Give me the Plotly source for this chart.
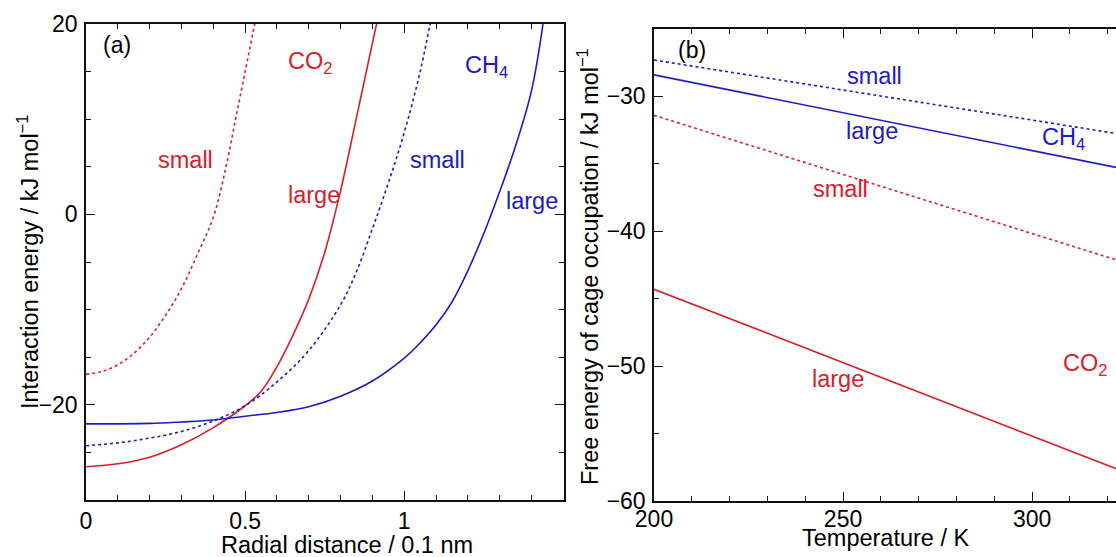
import plotly.graph_objects as go

# ---- panel (a): interaction energy vs radial distance ----
r_co2_small = [0.0, 0.05, 0.10, 0.15, 0.20, 0.25, 0.30, 0.35, 0.40, 0.44, 0.47, 0.50, 0.532]
e_co2_small = [-16.8, -16.5, -15.8, -14.6, -12.9, -10.6, -7.8, -4.2, -0.3, 5.0, 10.0, 15.0, 20.3]

r_co2_large = [0.0, 0.10, 0.20, 0.30, 0.40, 0.50, 0.55, 0.60, 0.65, 0.70, 0.75, 0.80, 0.85, 0.90, 0.92]
e_co2_large = [-26.5, -26.2, -25.5, -24.2, -22.4, -20.1, -18.6, -16.0, -12.7, -8.9, -4.0, 2.5, 10.2, 18.0, 21.1]

r_ch4_small = [0.0, 0.10, 0.20, 0.30, 0.40, 0.50, 0.60, 0.70, 0.80, 0.85, 0.90, 0.95, 1.00, 1.05, 1.08, 1.09]
e_ch4_small = [-24.3, -24.0, -23.5, -22.8, -21.7, -20.1, -17.6, -14.3, -9.5, -6.0, -1.5, 3.3, 8.6, 15.0, 19.8, 21.5]

r_ch4_large = [0.0, 0.20, 0.30, 0.40, 0.50, 0.60, 0.70, 0.80, 0.90, 1.00, 1.05, 1.10, 1.15, 1.20, 1.25, 1.30, 1.35, 1.40, 1.436]
e_ch4_large = [-22.0, -21.95, -21.8, -21.6, -21.2, -20.8, -20.2, -19.1, -17.5, -15.1, -13.5, -11.6, -9.2, -5.9, -2.0, 2.4, 7.2, 13.0, 20.0]

# ---- panel (b): free energy of cage occupation vs temperature ----
temperature = [200, 250, 300, 330]
g_ch4_small = [-27.3, -29.5, -31.75, -33.1]
g_ch4_large = [-28.4, -31.2, -34.0, -35.7]
g_co2_small = [-31.4, -35.8, -40.2, -42.8]
g_co2_large = [-44.3, -49.75, -55.2, -58.45]

RED = "#d9202a"
BLUE = "#1c1cc6"
FONT = "Liberation Sans, Arial, Helvetica, sans-serif"
W, H = 1116, 557
DASH = "3px,3px"


def px_x(p):
    return p / W


def px_y(p):
    return 1 - p / H


fig = go.Figure()


def curve(x, y, color, dotted, xa, ya, spline=True):
    fig.add_trace(go.Scatter(
        x=x, y=y, mode="lines", xaxis=xa, yaxis=ya, showlegend=False,
        line=dict(color=color, width=1.6, dash=DASH if dotted else "solid",
                  shape="spline" if spline else "linear", smoothing=1.0),
        hoverinfo="skip"))


curve(r_co2_small, e_co2_small, RED, True, "x", "y")
curve(r_co2_large, e_co2_large, RED, False, "x", "y")
curve(r_ch4_small, e_ch4_small, BLUE, True, "x", "y")
curve(r_ch4_large, e_ch4_large, BLUE, False, "x", "y")

curve(temperature, g_ch4_small, BLUE, True, "x2", "y2", spline=False)
curve(temperature, g_ch4_large, BLUE, False, "x2", "y2", spline=False)
curve(temperature, g_co2_small, RED, True, "x2", "y2", spline=False)
curve(temperature, g_co2_large, RED, False, "x2", "y2", spline=False)

tick_font = dict(family=FONT, size=23, color="black")
axis_common = dict(
    showgrid=False, zeroline=False, showline=True, linecolor="#111111", linewidth=1.5,
    ticks="inside", ticklen=9, tickwidth=1.3, tickcolor="#111111",
    tickfont=tick_font, automargin=False,
)
minor_common = dict(ticks="inside", ticklen=5, tickwidth=1.2, tickcolor="#111111", tickmode="linear")

fig.update_layout(
    width=W, height=H,
    margin=dict(l=0, r=0, t=0, b=0),
    paper_bgcolor="white", plot_bgcolor="white",
    font=dict(family=FONT, color="black"),
    xaxis=dict(
        axis_common, domain=[px_x(86), px_x(564)], range=[0, 1.502],
        tickmode="array", tickvals=[0, 0.5, 1], ticktext=["0", "0.5", "1"],
        minor=dict(minor_common, tick0=0, dtick=0.1),
        mirror="ticks", anchor="y", ticklabelstandoff=0,
    ),
    yaxis=dict(
        axis_common, domain=[px_y(500), px_y(24)], range=[-30, 20],
        tickmode="array", tickvals=[-20, 0, 20],
        minor=dict(minor_common, tick0=0, dtick=5),
        mirror="ticks", anchor="x", ticklabelstandoff=2,
    ),
    xaxis2=dict(
        axis_common, domain=[px_x(654), 1.0], range=[200, 322.2],
        tickmode="array", tickvals=[200, 250, 300],
        minor=dict(minor_common, tick0=200, dtick=10),
        mirror="ticks", anchor="y2", ticklabelstandoff=-3,
    ),
    yaxis2=dict(
        axis_common, domain=[px_y(501), px_y(29)], range=[-60, -25],
        tickmode="array", tickvals=[-60, -50, -40, -30],
        minor=dict(minor_common, tick0=-60, dtick=5),
        mirror=False, anchor="x2", ticklabelstandoff=2,
    ),
)

label_font = 23.5


def note(text, x, y, color, xref, yref, size=label_font, angle=0):
    fig.add_annotation(text=text, x=x, y=y, xref=xref, yref=yref, showarrow=False,
                       textangle=angle,
                       font=dict(family=FONT, size=size, color=color),
                       xanchor="center", yanchor="middle")


# panel (a) labels
note("(a)", 0.097, 17.8, "black", "x", "y", 23)
note("CO<sub>2</sub>", 0.703, 16.0, RED, "x", "y")
note("CH<sub>4</sub>", 1.259, 15.5, BLUE, "x", "y")
note("small", 0.314, 5.7, RED, "x", "y")
note("large", 0.716, 2.0, RED, "x", "y")
note("small", 1.105, 5.7, BLUE, "x", "y")
note("large", 1.40, 1.4, BLUE, "x", "y")

# panel (b) labels
note("(b)", 210.1, -26.55, "black", "x2", "y2", 23)
note("small", 258.2, -28.47, BLUE, "x2", "y2")
note("large", 257.7, -32.54, BLUE, "x2", "y2")
note("CH<sub>4</sub>", 308.2, -33.1, BLUE, "x2", "y2")
note("small", 249.2, -36.9, RED, "x2", "y2")
note("large", 248.7, -50.94, RED, "x2", "y2")
note("CO<sub>2</sub>", 314.0, -49.9, RED, "x2", "y2")

# axis titles
title_size = 23.5
note("Radial distance / 0.1 nm", px_x(347), px_y(545), "black", "paper", "paper", title_size)
note("Interaction energy / kJ mol<sup>\u22121</sup>", px_x(28), px_y(262), "black", "paper", "paper", title_size, -90)
note("Temperature / K", px_x(886), px_y(538), "black", "paper", "paper", title_size)
note("Free energy of cage occupation / kJ mol<sup>\u22121</sup>", px_x(588), px_y(267), "black", "paper", "paper", title_size, -90)

fig.write_html("out.html")
